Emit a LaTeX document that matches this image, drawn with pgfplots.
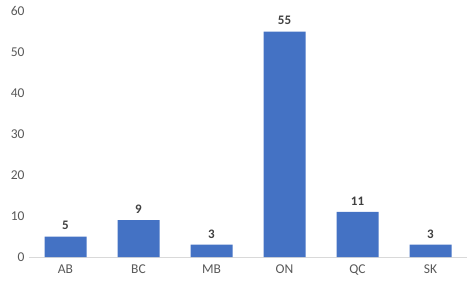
\documentclass[border=0pt]{standalone}
\usepackage{pgfplots}
\pgfplotsset{compat=1.18}
\usepackage{fontspec}
\setmainfont{Carlito}
\definecolor{barblue}{HTML}{4472C4}
\definecolor{ticktext}{HTML}{595959}
\definecolor{labtext}{HTML}{404040}
\definecolor{axisgray}{HTML}{D9D9D9}
\begin{document}
\begin{tikzpicture}
\useasboundingbox (-29pt,-24pt) rectangle (447pt,257pt);
\begin{axis}[
  at={(0,0)}, anchor=south west,
  scale only axis, width=438pt, height=246pt,
  xmin=-0.5, xmax=5.5, ymin=0, ymax=60,
  ytick={0,10,...,60},
  xtick={0,1,2,3,4,5},
  xticklabels={AB,BC,MB,ON,QC,SK},
  axis line style={draw=none},
  major tick length=0pt,
  tick label style={font=\fontsize{13.5}{15}\selectfont, text=ticktext},
  /pgf/number format/assume math mode=true,
  yticklabel style={xshift=-1pt},
  xticklabel style={yshift=-4pt},
  ybar, bar width=42pt,
  nodes near coords,
  every node near coord/.append style={font=\bfseries\fontsize{13}{15}\selectfont, text=labtext, yshift=3pt},
  clip=false,
]
\draw[axisgray, line width=0.8pt] (axis cs:-0.5,0) -- (axis cs:5.5,0);
\addplot[fill=barblue, draw=none] coordinates {(0,5) (1,9) (2,3) (3,55) (4,11) (5,3)};
\end{axis}
\end{tikzpicture}
\end{document}
